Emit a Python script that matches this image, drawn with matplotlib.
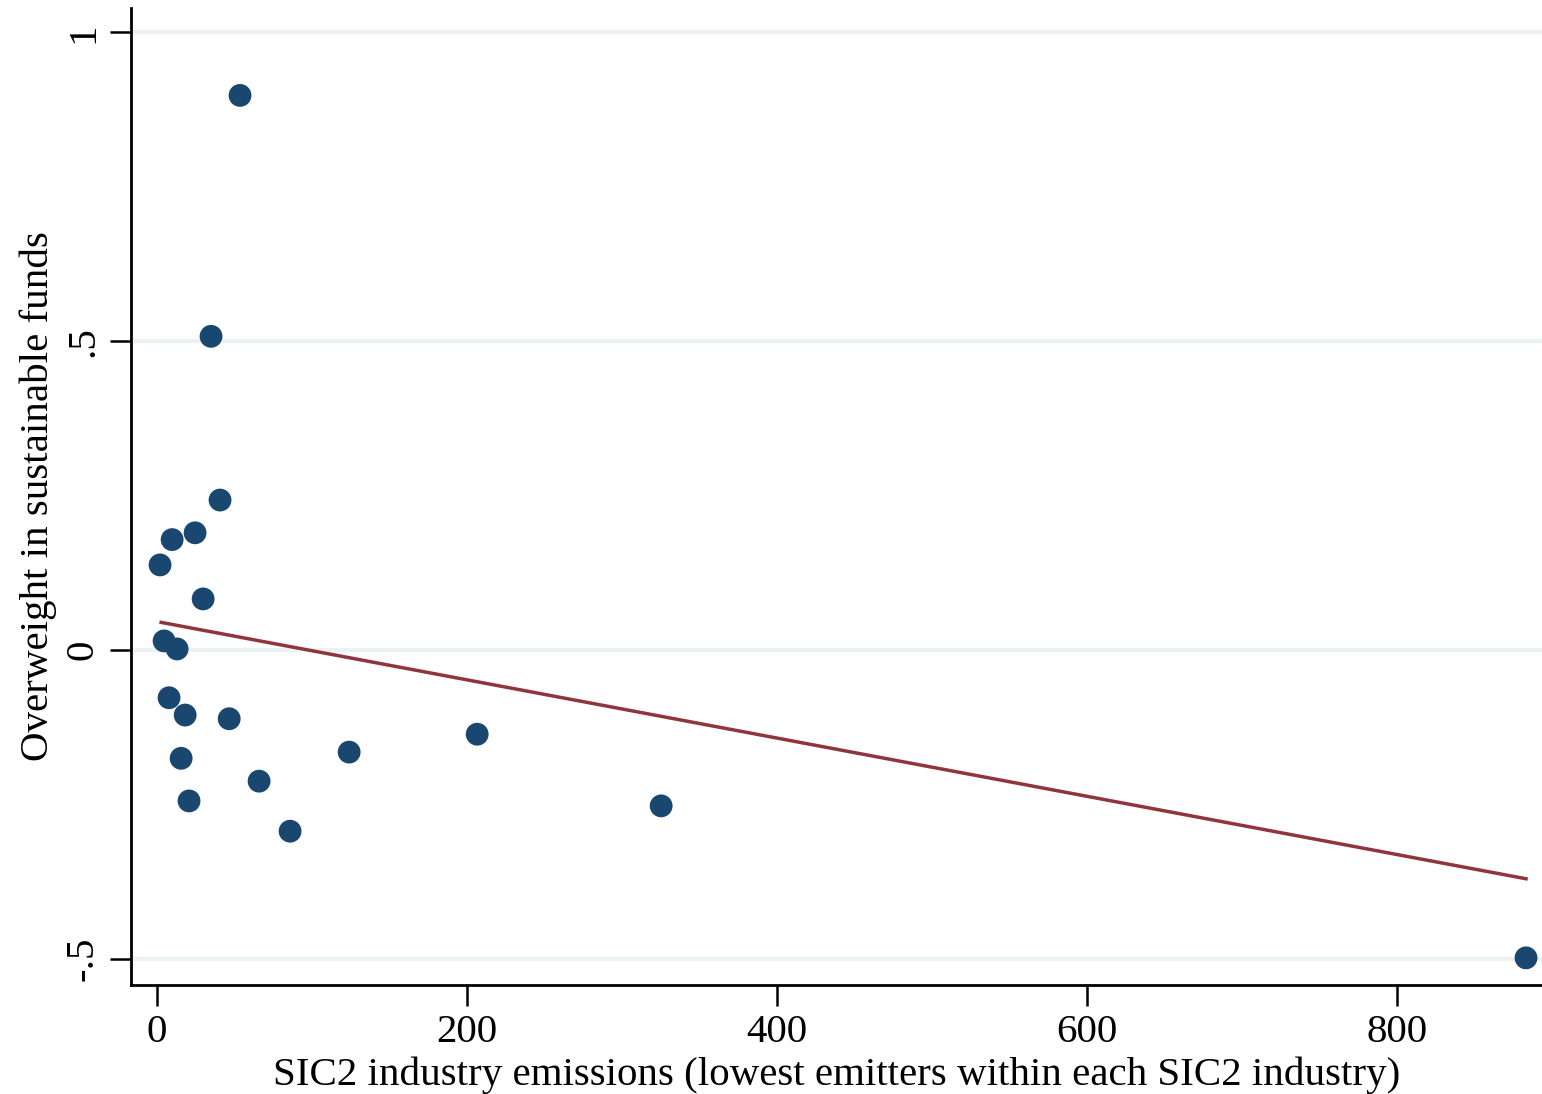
import matplotlib.pyplot as plt

# emissions (x) and overweight (y) for each SIC2 industry
emissions = [53.5, 34.8, 40.6, 24.5, 9.7, 1.9, 29.7, 4.5, 12.9, 7.7,
             18.1, 46.5, 15.5, 20.6, 65.8, 85.8, 123.9, 206.5, 325.2, 883.2]
overweight = [0.898, 0.508, 0.243, 0.190, 0.179, 0.138, 0.083, 0.015, 0.002, -0.077,
              -0.105, -0.111, -0.175, -0.244, -0.212, -0.293, -0.165, -0.136, -0.252, -0.498]

# fitted line end points
fit_x = [2.6, 883.2]
fit_y = [0.045, -0.370]

xticks = [0, 200, 400, 600, 800]
yticks = [-0.5, 0, 0.5, 1]
yticklabels = ["-.5", "0", ".5", "1"]

plt.rcParams['font.family'] = ['Liberation Serif', 'DejaVu Serif']

fig = plt.figure(figsize=(15.42, 10.94), dpi=100)
ax = fig.add_axes([0.085, 0.0996, 0.915, 0.8934])

for y in yticks:
    ax.axhline(y, color="#eaf2f3", lw=3, zorder=0)

ax.scatter(emissions, overweight, s=270, color="#1a476f", edgecolors="none", zorder=3)
ax.plot(fit_x, fit_y, color="#90353b", lw=2.5, zorder=2)

ax.set_xlim(-16.8, 893.5)
ax.set_ylim(-0.542, 1.04)

ax.set_xticks(xticks)
ax.set_yticks(yticks)
ax.set_yticklabels(yticklabels, rotation=90, va="center")
ax.tick_params(axis="both", direction="out", length=15, width=1.8, labelsize=29.5, pad=6)

for s in ["top", "right"]:
    ax.spines[s].set_visible(False)
for s in ["left", "bottom"]:
    ax.spines[s].set_linewidth(2)

ax.set_xlabel("SIC2 industry emissions (lowest emitters within each SIC2 industry)", fontsize=29.5, labelpad=4)
ax.set_ylabel("Overweight in sustainable funds", fontsize=29.5, labelpad=6)

fig.savefig("out.png", dpi=100)
